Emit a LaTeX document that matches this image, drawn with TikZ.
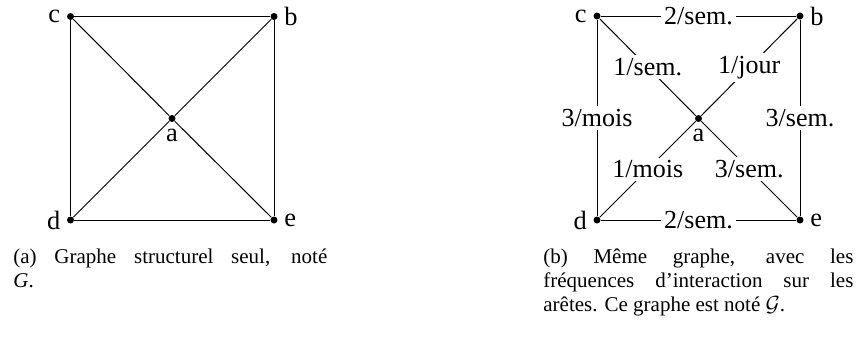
\documentclass[tikz,border=0pt]{standalone}
\usepackage{fontspec}
\setmainfont{Liberation Serif}
\usepackage{tikz}
\usetikzlibrary{positioning}

\begin{document}
\begin{tikzpicture}[
  x=0.5pt, y=-0.5pt,
  vertex/.style={circle, fill=black, inner sep=0pt, minimum size=3.5pt,
                 label distance=0pt},
  vlab/.style={inner sep=3pt, font=\fontsize{13.2}{15}\selectfont},
  edge/.style={line width=0.5pt},
  elab/.style={fill=white, inner sep=1.5pt, font=\fontsize{13}{15}\selectfont},
  capt/.style={anchor=north west, inner sep=0pt, align=justify,
               font=\fontsize{10.5}{12}\selectfont}
]
  \useasboundingbox (0,0) rectangle (859,344);
  % (a) graphe structurel
  \node[vertex, label={[vlab]left:c}]  (c1) at (70.5,16.5) {};
  \node[vertex, label={[vlab]right:b}] (b1) at (274,16.5) {};
  \node[vertex, label={[vlab]below:a}] (a1) at (172,118.5) {};
  \node[vertex, label={[vlab]left:d}]  (d1) at (70.5,220) {};
  \node[vertex, label={[vlab]right:e}] (e1) at (274,220) {};
  \draw[edge] (c1)--(b1);
  \draw[edge] (d1)--(e1);
  \draw[edge] (c1)--(d1);
  \draw[edge] (b1)--(e1);
  \draw[edge] (c1)--(a1)--(e1);
  \draw[edge] (d1)--(a1)--(b1);
  \node[capt, text width=157pt] (capa) at (13,248)
    {(a) Graphe structurel seul, noté\linebreak {\itshape G}.};
  % (b) graphe avec fréquences
  \node[vertex, label={[vlab]left:c}]  (c2) at (597,16) {};
  \node[vertex, label={[vlab]right:b}] (b2) at (800,16) {};
  \node[vertex, label={[vlab]below:a}] (a2) at (698.5,118.5) {};
  \node[vertex, label={[vlab]left:d}]  (d2) at (597,220) {};
  \node[vertex, label={[vlab]right:e}] (e2) at (800,220) {};
  \draw[edge] (c2) -- node[elab] {2/sem.} (b2);
  \draw[edge] (d2) -- node[elab] {2/sem.} (e2);
  \draw[edge] (c2) -- node[elab] {3/mois} (d2);
  \draw[edge] (b2) -- node[elab] {3/sem.} (e2);
  \draw[edge] (c2) -- node[elab] {1/sem.} (a2);
  \draw[edge] (a2) -- node[elab] {1/jour} (b2);
  \draw[edge] (d2) -- node[elab] {1/mois} (a2);
  \draw[edge] (a2) -- node[elab] {3/sem.} (e2);
  \node[capt, text width=155pt] (capb) at (543,248)
    {(b) Même graphe, avec les\linebreak fréquences d’interaction sur les\linebreak arêtes. Ce graphe est noté $\mathcal{G}$.};
\end{tikzpicture}
\end{document}
